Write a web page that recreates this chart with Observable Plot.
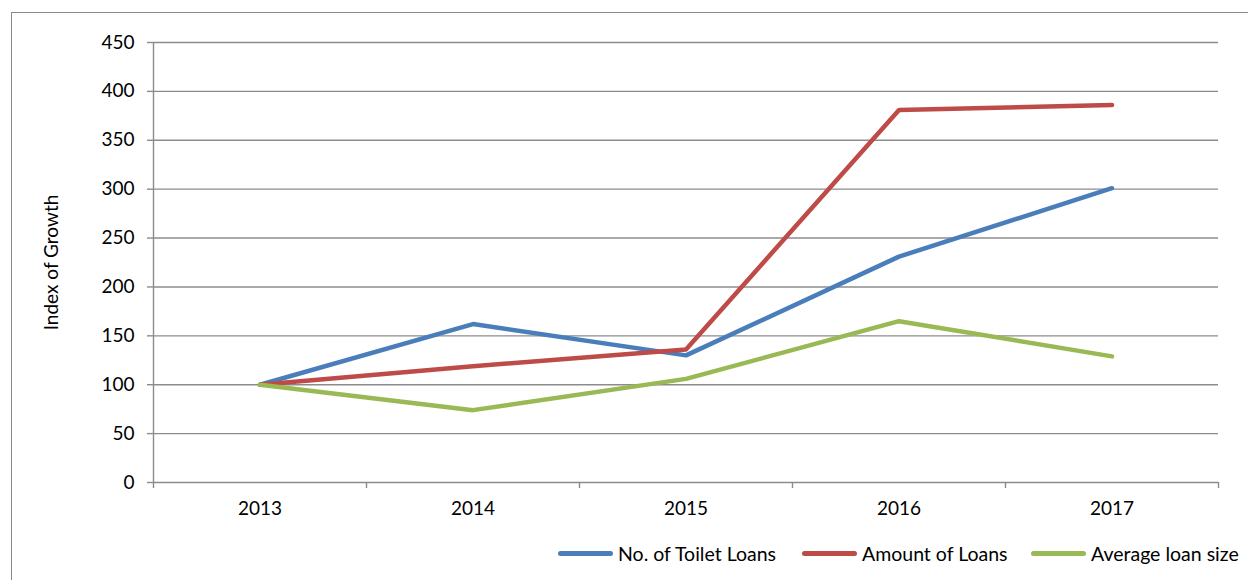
<!DOCTYPE html>
<html>
<head>
<meta charset="utf-8">
<script src="https://cdn.jsdelivr.net/npm/d3@7"></script>
<script src="https://cdn.jsdelivr.net/npm/@observablehq/plot@0.6"></script>
<style>
  html, body { margin: 0; padding: 0; background: #fff; }
  body { width: 1248px; height: 580px; position: relative; overflow: hidden; font-family: Lato, "Open Sans", sans-serif; }
  #frame { position: absolute; left: 11px; top: 12px; width: 1400px; height: 700px; border-left: 1.5px solid #8a8a8a; border-top: 1.5px solid #8a8a8a; }
  #chart { position: absolute; left: 0; top: 0; }
  #legend { position: absolute; left: 0; top: 541px; width: 1248px; height: 24px; font-size: 19.5px; color: #000; }
  .item { position: absolute; top: 0; display: flex; align-items: center; height: 24px; white-space: nowrap; }
  .swatch { display: inline-block; width: 55px; height: 5px; border-radius: 3px; margin-right: 5px; }
</style>
</head>
<body>
<div id="frame"></div>
<div id="chart"></div>
<div id="legend"></div>
<script>
const years = [2013, 2014, 2015, 2016, 2017];
const seriesNames = ["No. of Toilet Loans", "Amount of Loans", "Average loan size"];
const toiletLoans = [100, 162, 130, 231, 301];
const amountOfLoans = [100, 119, 136, 381, 386];
const avgLoanSize = [100, 74, 106, 165, 129];
const colors = ["#4a7ebb", "#be4b48", "#98b954"];
const yTicks = [0, 50, 100, 150, 200, 250, 300, 350, 400, 450];
const xBoundaries = [2012.5, 2013.5, 2014.5, 2015.5, 2016.5, 2017.5];

const seriesValues = [toiletLoans, amountOfLoans, avgLoanSize];
const data = [];
seriesNames.forEach((name, i) => {
  years.forEach((yr, j) => data.push({series: name, year: yr, value: seriesValues[i][j]}));
});

const gridColor = "#8c8c8c";
const chart = Plot.plot({
  width: 1248,
  height: 520,
  marginLeft: 153,
  marginRight: 30,
  marginTop: 42,
  marginBottom: 38,
  style: {fontFamily: "Lato, 'Open Sans', sans-serif", fontSize: "19px", color: "#000", background: "transparent"},
  x: {type: "linear", domain: [2012.5, 2017.5]},
  y: {domain: [0, 450]},
  color: {domain: seriesNames, range: colors},
  marks: [
    Plot.ruleY(yTicks, {x1: 2012.5, x2: 2017.5, stroke: gridColor, strokeWidth: 1.4, strokeOpacity: 1}),
    Plot.ruleX([2012.5], {y1: 0, y2: 450, stroke: gridColor, strokeWidth: 1.4}),
    Plot.axisY({ticks: yTicks, tickSize: 6, tickPadding: 13, stroke: gridColor, strokeWidth: 1.4, strokeOpacity: 1,
      label: "Index of Growth", labelAnchor: "center", labelArrow: "none", labelOffset: 109, fill: "#000"}),
    Plot.axisX({ticks: xBoundaries, tickSize: 6, tickFormat: () => "", stroke: gridColor, strokeWidth: 1.4, strokeOpacity: 1, label: null}),
    Plot.axisX({ticks: years, tickSize: 0, tickPadding: 19, tickFormat: d => String(d), label: null, fill: "#000"}),
    Plot.line(data, {x: "year", y: "value", z: "series", stroke: "series", strokeWidth: 4.5, strokeLinejoin: "miter", strokeLinecap: "round"})
  ]
});
document.getElementById("chart").appendChild(chart);

const legend = document.getElementById("legend");
const legendLeft = [558, 802, 1031];
seriesNames.forEach((name, i) => {
  const item = document.createElement("div");
  item.className = "item";
  item.style.left = legendLeft[i] + "px";
  const sw = document.createElement("span");
  sw.className = "swatch";
  sw.style.background = colors[i];
  const label = document.createElement("span");
  label.textContent = name;
  item.appendChild(sw);
  item.appendChild(label);
  legend.appendChild(item);
});
</script>
</body>
</html>
